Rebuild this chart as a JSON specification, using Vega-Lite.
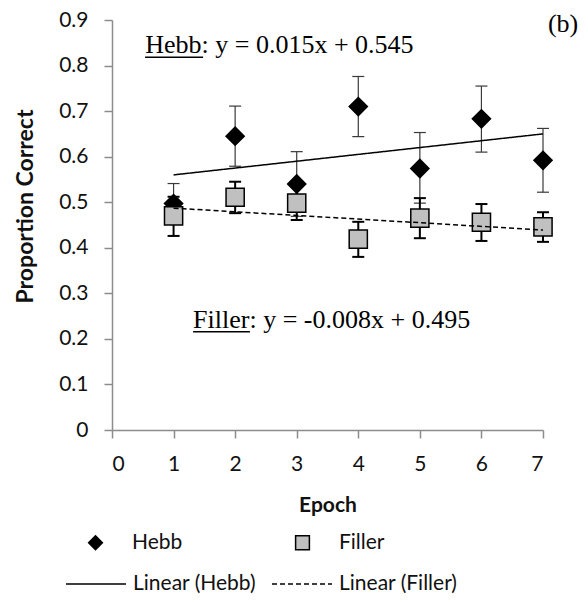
{
  "$schema": "https://vega.github.io/schema/vega-lite/v6.json",
  "width": 431,
  "height": 410,
  "autosize": {"type": "none"},
  "padding": {"left": 112, "top": 20, "right": 42, "bottom": 177},
  "background": "white",
  "config": {
    "view": {"stroke": null},
    "axis": {
      "grid": false,
      "labelFont": "Lato",
      "labelFontSize": 21,
      "labelColor": "#111111",
      "titleFont": "Lato",
      "titleFontSize": 21,
      "titleFontWeight": "bold",
      "titleColor": "#111111",
      "domainColor": "#8c8c8c",
      "tickColor": "#8c8c8c",
      "domainWidth": 1.5,
      "tickWidth": 1.5,
      "tickSize": 8
    },
    "legend": {
      "labelFont": "Lato",
      "labelFontSize": 21,
      "labelColor": "#111111",
      "padding": 0
    }
  },
  "datasets": {
    "points": [
      {"epoch": 1, "series": "Hebb", "value": 0.497, "lo": 0.453, "hi": 0.541},
      {"epoch": 2, "series": "Hebb", "value": 0.645, "lo": 0.579, "hi": 0.711},
      {"epoch": 3, "series": "Hebb", "value": 0.540, "lo": 0.469, "hi": 0.611},
      {"epoch": 4, "series": "Hebb", "value": 0.710, "lo": 0.644, "hi": 0.776},
      {"epoch": 5, "series": "Hebb", "value": 0.574, "lo": 0.498, "hi": 0.653},
      {"epoch": 6, "series": "Hebb", "value": 0.683, "lo": 0.610, "hi": 0.755},
      {"epoch": 7, "series": "Hebb", "value": 0.592, "lo": 0.522, "hi": 0.662},
      {"epoch": 1, "series": "Filler", "value": 0.470, "lo": 0.426, "hi": 0.512},
      {"epoch": 2, "series": "Filler", "value": 0.511, "lo": 0.476, "hi": 0.545},
      {"epoch": 3, "series": "Filler", "value": 0.498, "lo": 0.461, "hi": 0.535},
      {"epoch": 4, "series": "Filler", "value": 0.419, "lo": 0.380, "hi": 0.457},
      {"epoch": 5, "series": "Filler", "value": 0.465, "lo": 0.421, "hi": 0.509},
      {"epoch": 6, "series": "Filler", "value": 0.456, "lo": 0.415, "hi": 0.496},
      {"epoch": 7, "series": "Filler", "value": 0.446, "lo": 0.413, "hi": 0.478}
    ],
    "trend": [
      {"epoch": 1, "trend": "Linear (Hebb)", "value": 0.560},
      {"epoch": 7, "trend": "Linear (Hebb)", "value": 0.650},
      {"epoch": 1, "trend": "Linear (Filler)", "value": 0.487},
      {"epoch": 7, "trend": "Linear (Filler)", "value": 0.439}
    ],
    "notes": [
      {"epoch": 0.54, "value": 0.8275, "label": "Hebb: y = 0.015x + 0.545"},
      {"epoch": 1.317, "value": 0.224, "label": "Filler: y = -0.008x + 0.495"},
      {"epoch": 7.08, "value": 0.874, "label": "(b)"}
    ],
    "underlines": [
      {"epoch": 0.537, "epoch2": 1.48, "value": 0.818},
      {"epoch": 1.317, "epoch2": 2.24, "value": 0.2158}
    ]
  },
  "encoding": {
    "x": {
      "field": "epoch",
      "type": "quantitative",
      "scale": {"domain": [0, 7], "nice": false, "zero": false},
      "axis": {"title": "Epoch", "values": [0, 1, 2, 3, 4, 5, 6, 7], "format": "d", "labelPadding": 15, "titleY": 75, "titleBaseline": "middle"}
    },
    "y": {
      "field": "value",
      "type": "quantitative",
      "title": "Proportion Correct",
      "scale": {"domain": [0, 0.9], "nice": false},
      "axis": {"title": "Proportion Correct", "values": [0, 0.1, 0.2, 0.3, 0.4, 0.5, 0.6, 0.7, 0.8, 0.9], "format": ".1~f", "labelPadding": 16, "titleX": -87, "titleY": 186, "titleBaseline": "middle", "titleFontSize": 23}
    }
  },
  "layer": [
    {
      "data": {"name": "points"},
      "transform": [{"filter": "datum.series === 'Hebb'"}],
      "mark": {"type": "rule", "color": "#3a3a3a", "strokeWidth": 1.2},
      "encoding": {"y": {"field": "lo", "type": "quantitative", "title": "Proportion Correct"}, "y2": {"field": "hi"}}
    },
    {
      "data": {"name": "points"},
      "transform": [{"filter": "datum.series === 'Hebb'"}],
      "mark": {"type": "tick", "orient": "horizontal", "size": 12, "thickness": 1.2, "color": "#3a3a3a", "opacity": 1},
      "encoding": {"y": {"field": "lo", "type": "quantitative", "title": "Proportion Correct"}}
    },
    {
      "data": {"name": "points"},
      "transform": [{"filter": "datum.series === 'Hebb'"}],
      "mark": {"type": "tick", "orient": "horizontal", "size": 12, "thickness": 1.2, "color": "#3a3a3a", "opacity": 1},
      "encoding": {"y": {"field": "hi", "type": "quantitative", "title": "Proportion Correct"}}
    },
    {
      "data": {"name": "points"},
      "transform": [{"filter": "datum.series === 'Filler'"}],
      "mark": {"type": "rule", "color": "#000000", "strokeWidth": 2},
      "encoding": {"y": {"field": "lo", "type": "quantitative", "title": "Proportion Correct"}, "y2": {"field": "hi"}}
    },
    {
      "data": {"name": "points"},
      "transform": [{"filter": "datum.series === 'Filler'"}],
      "mark": {"type": "tick", "orient": "horizontal", "size": 12, "thickness": 2, "color": "#000000", "opacity": 1},
      "encoding": {"y": {"field": "lo", "type": "quantitative", "title": "Proportion Correct"}}
    },
    {
      "data": {"name": "points"},
      "transform": [{"filter": "datum.series === 'Filler'"}],
      "mark": {"type": "tick", "orient": "horizontal", "size": 12, "thickness": 2, "color": "#000000", "opacity": 1},
      "encoding": {"y": {"field": "hi", "type": "quantitative", "title": "Proportion Correct"}}
    },
    {
      "data": {"name": "points"},
      "mark": {"type": "point", "filled": true, "stroke": "#000000", "strokeWidth": 1.5, "size": 330, "opacity": 1},
      "encoding": {
        "shape": {
          "field": "series",
          "type": "nominal",
          "scale": {"domain": ["Hebb", "Filler"], "range": ["diamond", "square"]},
          "legend": {"orient": "none", "legendX": -27, "legendY": 512, "direction": "horizontal", "columns": 2, "title": null, "symbolSize": 190, "symbolStrokeWidth": 1.5, "labelOffset": 26, "columnPadding": 109}
        },
        "fill": {
          "field": "series",
          "type": "nominal",
          "scale": {"domain": ["Hebb", "Filler"], "range": ["#000000", "#c0c0c0"]},
          "legend": {"orient": "none", "legendX": -27, "legendY": 512, "direction": "horizontal", "columns": 2, "title": null, "symbolSize": 190, "symbolStrokeWidth": 1.5, "labelOffset": 26, "columnPadding": 109}
        }
      }
    },
    {
      "data": {"name": "trend"},
      "mark": {"type": "line", "color": "#000000", "strokeWidth": 1.5},
      "encoding": {
        "strokeDash": {
          "field": "trend",
          "type": "nominal",
          "scale": {"domain": ["Linear (Hebb)", "Linear (Filler)"], "range": [[1, 0], [5, 3]]},
          "legend": {"orient": "none", "legendX": -47, "legendY": 533, "direction": "horizontal", "columns": 2, "title": null, "symbolType": "stroke", "symbolSize": 3600, "symbolStrokeWidth": 1.5, "symbolStrokeColor": "#000000", "labelOffset": 6, "columnPadding": 12}
        }
      }
    },
    {
      "data": {"name": "underlines"},
      "mark": {"type": "rule", "color": "#000000", "strokeWidth": 1.5},
      "encoding": {"x2": {"field": "epoch2"}}
    },
    {
      "data": {"name": "notes"},
      "mark": {"type": "text", "font": "Liberation Serif", "fontSize": 26, "align": "left", "baseline": "alphabetic", "color": "#000000"},
      "encoding": {"text": {"field": "label", "type": "nominal"}}
    }
  ]
}
